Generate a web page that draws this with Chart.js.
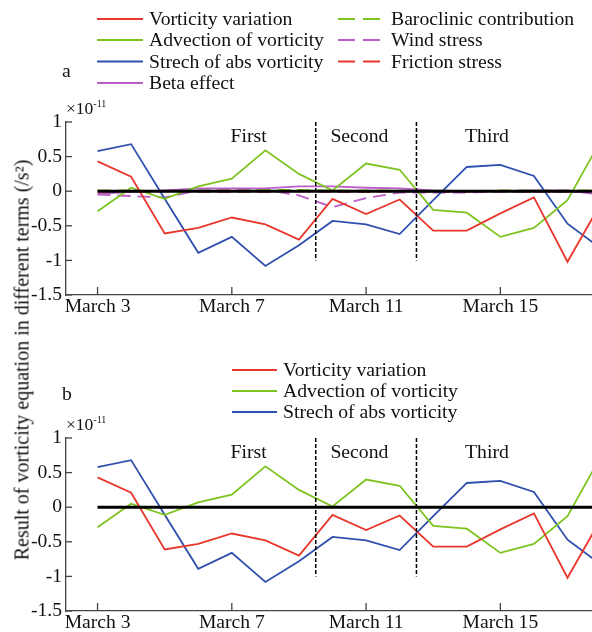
<!DOCTYPE html>
<html>
<head>
<meta charset="utf-8">
<script src="https://cdn.jsdelivr.net/npm/chart.js@4.4.0/dist/chart.umd.min.js"></script>
<style>
  html, body { margin: 0; padding: 0; background: #fff; overflow: hidden; }
  #wrap { position: relative; width: 592px; height: 632px; }
  canvas { position: absolute; left: 0; }
  #ytitle {
    position: absolute; left: 22px; top: 360px;
    transform: translate(-50%, -50%) rotate(-90deg);
    font: 20px "Liberation Serif", serif; white-space: nowrap; color: #111;
  }
</style>
</head>
<body>
<div id="wrap">
  <canvas id="chartA" width="592" height="320" style="top:0"></canvas>
  <canvas id="chartB" width="592" height="312" style="top:320px"></canvas>
  <div id="ytitle">Result of vorticity equation in different terms (/s²)</div>
</div>
<script>
// days of March, values in units of 1e-11 /s^2
const days = [3, 4, 5, 6, 7, 8, 9, 10, 11, 12, 13, 14, 15, 16, 17, 18];
const xTicks = [3, 7, 11, 15];
const yTicks = [-1.5, -1, -0.5, 0, 0.5, 1];

const vorticityVariation = [0.43, 0.21, -0.61, -0.53, -0.38, -0.48, -0.70, -0.11, -0.33, -0.12, -0.57, -0.57, -0.32, -0.09, -1.02, -0.17];
const advection = [-0.29, 0.05, -0.11, 0.07, 0.18, 0.59, 0.25, 0.01, 0.40, 0.31, -0.27, -0.31, -0.66, -0.53, -0.13, 0.74];
const stretch = [0.58, 0.68, -0.11, -0.89, -0.66, -1.08, -0.78, -0.43, -0.48, -0.62, -0.13, 0.35, 0.38, 0.22, -0.47, -0.83];
const betaEffect = [-0.04, -0.01, 0.01, 0.04, 0.04, 0.04, 0.07, 0.07, 0.05, 0.04, 0.01, 0.0, 0.0, 0.01, 0.01, -0.05];
const baroclinic = [0.01, 0.01, 0.0, 0.01, 0.01, 0.02, 0.02, 0.01, 0.01, 0.01, 0.0, 0.0, 0.01, 0.01, 0.01, 0.01];
const windStress = [-0.05, -0.07, -0.09, 0.01, 0.02, 0.02, -0.06, -0.23, -0.10, -0.02, -0.02, -0.02, -0.01, -0.01, -0.01, -0.01];
const frictionStress = [-0.01, -0.01, 0.0, -0.01, -0.01, -0.01, 0.0, -0.01, -0.01, 0.0, -0.01, -0.01, 0.0, -0.01, -0.01, -0.01];

const phases = ['First', 'Second', 'Third'];
const phaseCenters = [7.5, 10.8, 14.6];
const phaseBounds = [9.5, 12.5];

const RED = '#e8372c', GREEN = '#7dc41f', BLUE = '#2f4fae', PURPLE = '#bb5ec9';
const FONT = '"Liberation Serif", serif';

function series(label, values, color, dashed) {
  return {
    label: label,
    data: days.map((d, i) => ({ x: d, y: values[i] })),
    borderColor: color,
    borderWidth: 1.8,
    borderDash: dashed ? [13, 7] : [],
    pointRadius: 0,
    fill: false,
    tension: 0
  };
}

// overlay: zero line, phase dividers, labels, inward ticks, legend
const overlay = {
  id: 'overlay',
  afterDatasetsDraw(chart, args, opts) {
    const ctx = chart.ctx;
    const a = chart.chartArea;
    const x = chart.scales.x, y = chart.scales.y;
    ctx.save();

    // zero line
    ctx.strokeStyle = '#000';
    ctx.lineWidth = 3;
    ctx.beginPath();
    ctx.moveTo(x.getPixelForValue(days[0]), y.getPixelForValue(0));
    ctx.lineTo(a.right, y.getPixelForValue(0));
    ctx.stroke();

    // dashed phase dividers
    ctx.lineWidth = 1.5;
    ctx.setLineDash([4, 2]);
    phaseBounds.forEach(b => {
      const px = x.getPixelForValue(b);
      ctx.beginPath();
      ctx.moveTo(px, y.getPixelForValue(1));
      ctx.lineTo(px, y.getPixelForValue(-1));
      ctx.stroke();
    });
    ctx.setLineDash([]);

    // phase names
    ctx.fillStyle = '#111';
    ctx.font = '19.7px ' + FONT;
    ctx.textAlign = 'center';
    ctx.textBaseline = 'middle';
    phases.forEach((p, i) => {
      ctx.fillText(p, x.getPixelForValue(phaseCenters[i]), y.getPixelForValue(0.78));
    });

    // inward ticks
    ctx.strokeStyle = '#444';
    ctx.lineWidth = 1.3;
    xTicks.forEach(t => {
      const px = x.getPixelForValue(t);
      ctx.beginPath();
      ctx.moveTo(px, a.bottom);
      ctx.lineTo(px, a.bottom - 8);
      ctx.stroke();
    });
    yTicks.forEach(t => {
      const py = y.getPixelForValue(t);
      ctx.beginPath();
      ctx.moveTo(a.left, py);
      ctx.lineTo(a.left + 6, py);
      ctx.stroke();
    });

    // exponent label
    ctx.textAlign = 'left';
    ctx.textBaseline = 'alphabetic';
    ctx.font = '17.5px ' + FONT;
    ctx.fillText('\u00d710', a.left, a.top - 8);
    const w = ctx.measureText('\u00d710').width;
    ctx.font = '10px ' + FONT;
    ctx.fillText('-11', a.left + w, a.top - 15);

    // panel letter
    ctx.font = '19.7px ' + FONT;
    ctx.textBaseline = 'middle';
    ctx.fillText(opts.letter, 62, opts.letterY);

    // legend
    opts.legend.forEach((slot, i) => {
      const ds = chart.data.datasets[i];
      ctx.strokeStyle = ds.borderColor;
      ctx.lineWidth = 1.8;
      ctx.setLineDash(ds.borderDash.length ? [17, 8] : []);
      ctx.beginPath();
      ctx.moveTo(slot.x, slot.y);
      ctx.lineTo(slot.x + slot.w, slot.y);
      ctx.stroke();
      ctx.setLineDash([]);
      ctx.fillStyle = '#111';
      ctx.font = '19.7px ' + FONT;
      ctx.fillText(ds.label, slot.tx, slot.y + 1);
    });

    ctx.restore();
  }
};

function makeChart(id, datasets, topPad, xHeight, overlayOpts) {
  return new Chart(document.getElementById(id), {
    type: 'line',
    data: { datasets: datasets },
    options: {
      responsive: false,
      animation: false,
      devicePixelRatio: 1,
      layout: { padding: { top: topPad, left: 0, right: 0, bottom: 0 } },
      plugins: {
        legend: { display: false },
        tooltip: { enabled: false },
        overlay: overlayOpts
      },
      scales: {
        x: {
          type: 'linear',
          min: 2.06,
          max: 17.73,
          afterBuildTicks: s => { s.ticks = xTicks.map(v => ({ value: v })); },
          afterFit: s => { s.height = xHeight; },
          grid: { display: false, drawTicks: false },
          border: { display: true, color: '#444', width: 1.3 },
          ticks: {
            color: '#111',
            padding: 2,
            maxRotation: 0,
            font: { family: FONT, size: 19.6, lineHeight: 1 },
            callback: v => 'March ' + v
          }
        },
        y: {
          min: -1.5,
          max: 1,
          afterBuildTicks: s => { s.ticks = yTicks.map(v => ({ value: v })); },
          afterFit: s => { s.width = 66; },
          grid: { display: false, drawTicks: false },
          border: { display: true, color: '#444', width: 1.3 },
          ticks: {
            color: '#111',
            padding: 4,
            font: { family: FONT, size: 19.6, lineHeight: 1 },
            callback: v => String(v)
          }
        }
      }
    },
    plugins: [overlay]
  });
}

makeChart('chartA', [
  series('Vorticity variation', vorticityVariation, RED, false),
  series('Advection of vorticity', advection, GREEN, false),
  series('Strech of abs vorticity', stretch, BLUE, false),
  series('Beta effect', betaEffect, PURPLE, false),
  series('Baroclinic contribution', baroclinic, GREEN, true),
  series('Wind stress', windStress, PURPLE, true),
  series('Friction stress', frictionStress, RED, true)
], 122, 25, {
  letter: 'a', letterY: 72,
  legend: [
    { x: 97, y: 19, w: 46, tx: 149 },
    { x: 97, y: 40, w: 46, tx: 149 },
    { x: 97, y: 61.5, w: 46, tx: 149 },
    { x: 97, y: 83, w: 46, tx: 149 },
    { x: 338, y: 19, w: 42, tx: 391 },
    { x: 338, y: 40, w: 42, tx: 391 },
    { x: 338, y: 61.5, w: 42, tx: 391 }
  ]
});

makeChart('chartB', [
  series('Vorticity variation', vorticityVariation, RED, false),
  series('Advection of vorticity', advection, GREEN, false),
  series('Strech of abs vorticity', stretch, BLUE, false)
], 118, 21, {
  letter: 'b', letterY: 75,
  legend: [
    { x: 232, y: 50, w: 45, tx: 283 },
    { x: 232, y: 71, w: 45, tx: 283 },
    { x: 232, y: 92, w: 45, tx: 283 }
  ]
});
</script>
</body>
</html>
